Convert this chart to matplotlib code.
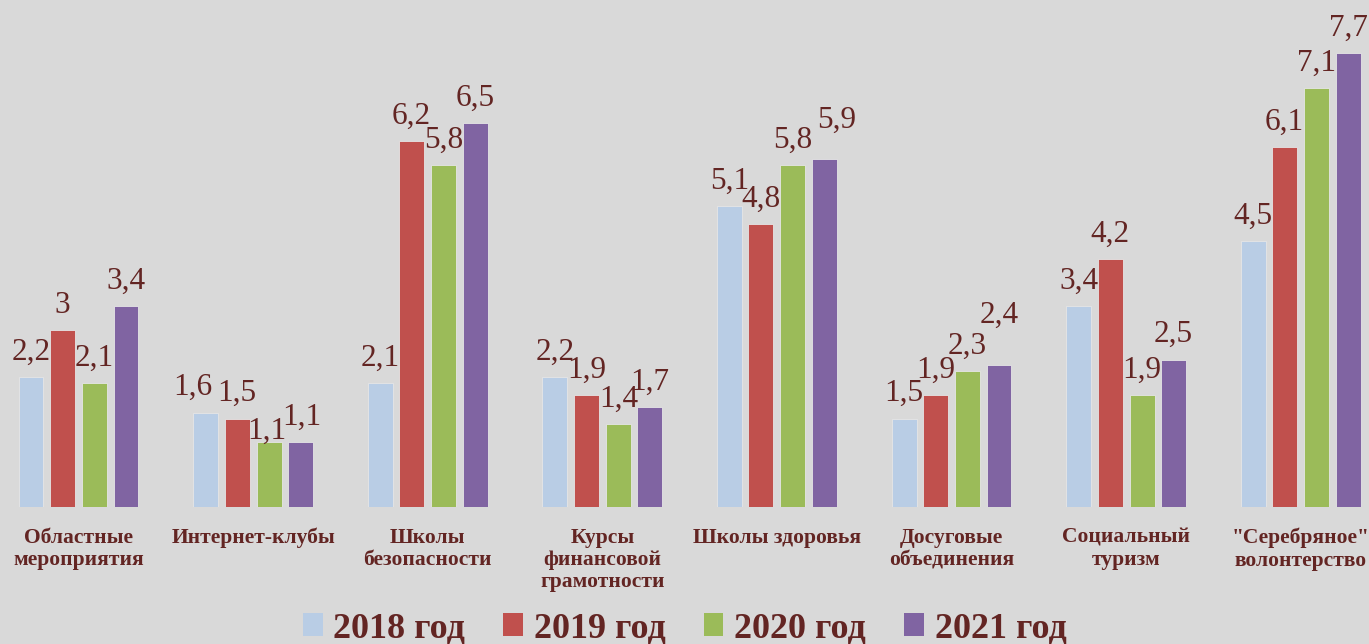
import numpy as np
import matplotlib.pyplot as plt
from matplotlib.patches import Patch

# ---- Данные ----
categories = ["Областные\nмероприятия", "Интернет-клубы", "Школы\nбезопасности",
              "Курсы\nфинансовой\nграмотности", "Школы здоровья", "Досуговые\nобъединения",
              "Социальный\nтуризм", "\"Серебряное\"\nволонтерство"]
series_names = ["2018 год", "2019 год", "2020 год", "2021 год"]
v2018 = [2.2, 1.6, 2.1, 2.2, 5.1, 1.5, 3.4, 4.5]
v2019 = [3.0, 1.5, 6.2, 1.9, 4.8, 1.9, 4.2, 6.1]
v2020 = [2.1, 1.1, 5.8, 1.4, 5.8, 2.3, 1.9, 7.1]
v2021 = [3.4, 1.1, 6.5, 1.7, 5.9, 2.4, 2.5, 7.7]

colors = ["#b9cde5", "#c0504d", "#9bbb59", "#8064a2"]
text_color = "#632523"
bg = "#d9d9d9"

# сдвиги подписей, передвинутых вручную (серия, категория) -> (dx, dy) в пунктах
nudges = {(0, 1): (-9, 0), (2, 1): (-2, -10), (3, 1): (1, 0),
          (3, 4): (8.5, 10), (3, 5): (0, 18)}

plt.rcParams['font.family'] = ['Liberation Serif', 'DejaVu Serif']

fig = plt.figure(figsize=(13.69, 6.44), dpi=100, facecolor=bg)
ax = fig.add_axes([0, 137 / 644, 1, 507 / 644])
ax.set_facecolor(bg)

x = np.arange(len(categories))
offsets = [-0.272, -0.092, 0.092, 0.272]
width = 0.143

for si, (vals, off, col) in enumerate(zip([v2018, v2019, v2020, v2021], offsets, colors)):
    bars = ax.bar(x + off, vals, width, color=col, edgecolor="#e6e6e6", linewidth=0.6)
    for ci, (b, v) in enumerate(zip(bars, vals)):
        dx, dy = nudges.get((si, ci), (0, 0))
        ax.annotate(f"{v:g}".replace(".", ","),
                    (b.get_x() + b.get_width() / 2, b.get_height()),
                    xytext=(dx, 12.5 + dy), textcoords="offset points",
                    ha="center", va="baseline", fontsize=22.5, color=text_color)

ax.set_xlim(-0.4496, 7.391)
ax.set_ylim(0, 507 / 59)
ax.set_xticks(x)
ax.set_xticklabels(categories, fontsize=15.5, fontweight="bold", color=text_color,
                   linespacing=1.15)
ax.tick_params(axis="x", length=0, pad=15)
ax.set_yticks([])
for s in ax.spines.values():
    s.set_visible(False)

handles = [Patch(facecolor=c, edgecolor="none") for c in colors]
fig.legend(handles, series_names, loc="center", bbox_to_anchor=(0.5, 15 / 644), ncol=4,
           frameon=False, prop={"size": 26, "weight": "bold"}, labelcolor=text_color,
           handlelength=0.55, handleheight=0.6, handletextpad=0.3, columnspacing=1.05,
           borderpad=0)

fig.savefig("out.png", dpi=100, facecolor=bg)
